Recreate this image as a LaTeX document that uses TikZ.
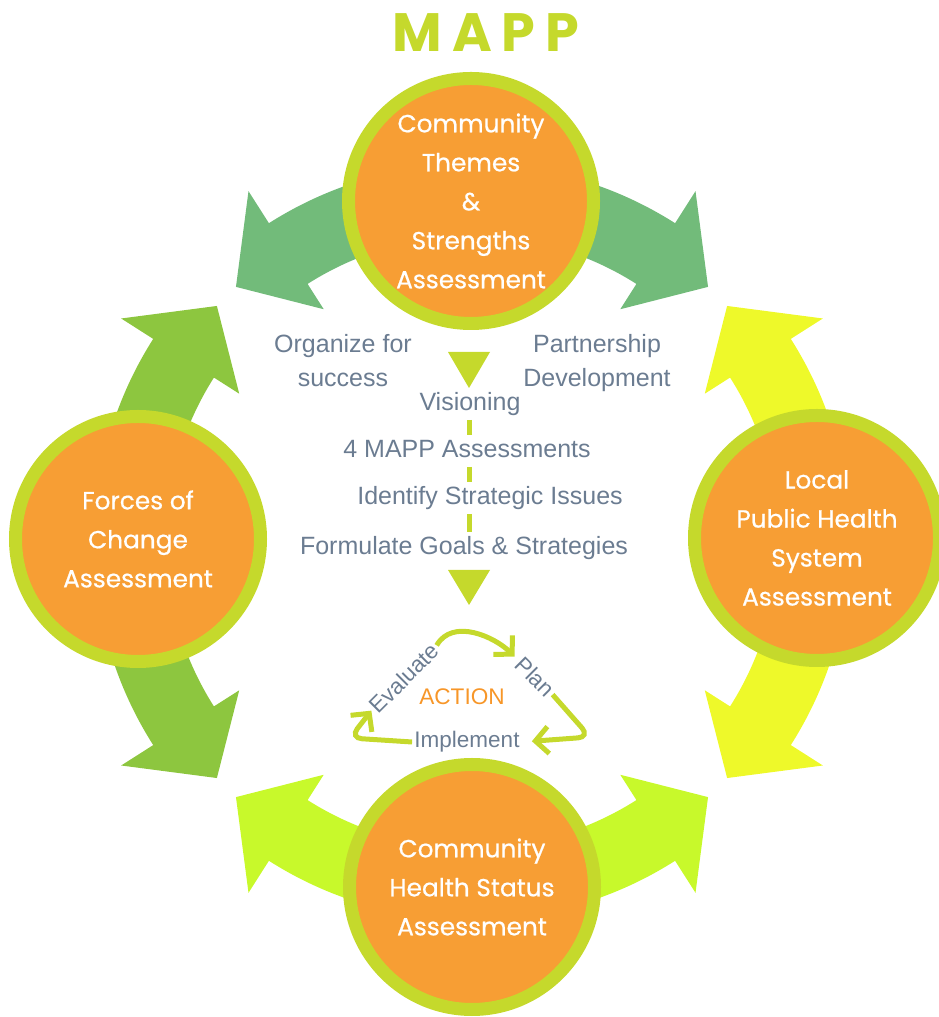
\documentclass[tikz,border=0pt]{standalone}
\usepackage{fontspec}
\setmainfont{Liberation Sans}
\newfontfamily\circfont{Poppins}[FakeBold=0.6]
\newfontfamily\titlefont{Poppins}
\usetikzlibrary{calc,arrows.meta}
\definecolor{ringlime}{RGB}{197,217,44}
\definecolor{stageorange}{RGB}{247,158,52}
\definecolor{arrowtop}{RGB}{114,187,122}
\definecolor{arrowleft}{RGB}{141,198,63}
\definecolor{arrowbottom}{RGB}{200,249,43}
\definecolor{arrowright}{RGB}{238,249,42}
\definecolor{textgrey}{RGB}{107,124,145}
\definecolor{actionorange}{RGB}{247,150,40}
\begin{document}
\begin{tikzpicture}[x=0.5pt,y=0.5pt,
	stage/.style={circle,fill=stageorange,draw=ringlime,line width=6.5pt,minimum size=122.5pt,inner sep=0pt,
		text=white,align=center,font=\circfont\fontsize{12.4}{19.5}\selectfont},
	listtext/.style={text=textgrey,font=\fontsize{12.5}{17}\selectfont,inner sep=0pt,text height=9pt,text depth=2.5pt,align=center},
	cyclabel/.style={text=textgrey,font=\fontsize{11.25}{13}\selectfont,inner sep=1pt},
	cyc/.style={draw=ringlime,line width=2.5pt,-{Straight Barb[length=6.5pt,width=13.5pt]}},
	dashbar/.style={draw=ringlime,line width=2.5pt,shorten <=2pt,shorten >=2pt}]
	\useasboundingbox (0,0) rectangle (938,1017);
	\coordinate (C) at (472,475);
	% curved arrow pairs behind the circles
	\foreach \p/\col in {90/arrowtop,180/arrowleft,270/arrowbottom,0/arrowright}{
		\pgfmathsetmacro\a{\p-32.5}
		\pgfmathsetmacro\b{\p+32.5}
		\fill[\col] ($(C)+(\a:378)$) arc[start angle=\a,end angle=\b,radius=378]
			-- ($(C)+(\b:416)$) -- ($(C)+(\b:342)+({\b+90}:62)$) -- ($(C)+(\b:276)$)
			-- ($(C)+(\b:306)$) arc[start angle=\b,end angle=\a,radius=306]
			-- ($(C)+(\a:276)$) -- ($(C)+(\a:342)+({\a-90}:62)$) -- ($(C)+(\a:416)$) -- cycle;
	}
	% the four assessments
	\node[stage] (themes) at (471,816) {Community\\Themes\\\&\\Strengths\\Assessment};
	\node[stage] (forces) at (138,478) {Forces of\\Change\\Assessment};
	\node[stage] (lphs) at (817,479) {Local\\Public Health\\System\\Assessment};
	\node[stage] (chsa) at (472,130) {Community\\Health Status\\Assessment};
	\node[text=ringlime,font=\titlefont\bfseries\fontsize{27}{30}\selectfont] (title) at (486,984) {M\kern5pt A\kern5pt P\kern5pt P};
	% phases in the middle
	\node[listtext] (organize) at (343,637) {Organize for\\success};
	\node[listtext] (partner) at (597,637) {Partnership\\Development};
	\fill[ringlime] (448,665) -- (490,665) -- (469,629) -- cycle;
	\node[listtext] (vision) at (470,613) {Visioning};
	\node[listtext] (assess) at (467,566) {4 MAPP Assessments};
	\node[listtext] (issues) at (490,519) {Identify Strategic Issues};
	\node[listtext] (goals) at (464,469) {Formulate Goals \& Strategies};
	\coordinate (axis) at (469,0);
	\draw[dashbar] (vision.south -| axis) -- (assess.north -| axis);
	\draw[dashbar] (assess.south -| axis) -- (issues.north -| axis);
	\draw[dashbar] (issues.south -| axis) -- (goals.north -| axis);
	\fill[ringlime] (448,447) -- (490,447) -- (469,412) -- cycle;
	% action cycle
	\node[cyclabel,rotate=45] (evaluate) at (404,339) {Evaluate};
	\node[cyclabel,rotate=-45] (plan) at (535,340) {Plan};
	\node[text=actionorange,font=\fontsize{11.3}{13}\selectfont] (action) at (462,320) {ACTION};
	\node[cyclabel] (implement) at (467,275) {Implement};
	\coordinate (rturn) at (590,280);
	\coordinate (lturn) at (350,279);
	\draw[cyc,shorten >=2pt] (evaluate.east) to[out=60,in=135] (plan.west);
	\draw[cyc,rounded corners=6pt,shorten >=5pt] (plan.east) -- (rturn) -- (implement.east);
	\draw[cyc,rounded corners=6pt] (implement.west) -- (lturn) -- (evaluate.west);
\end{tikzpicture}
\end{document}
